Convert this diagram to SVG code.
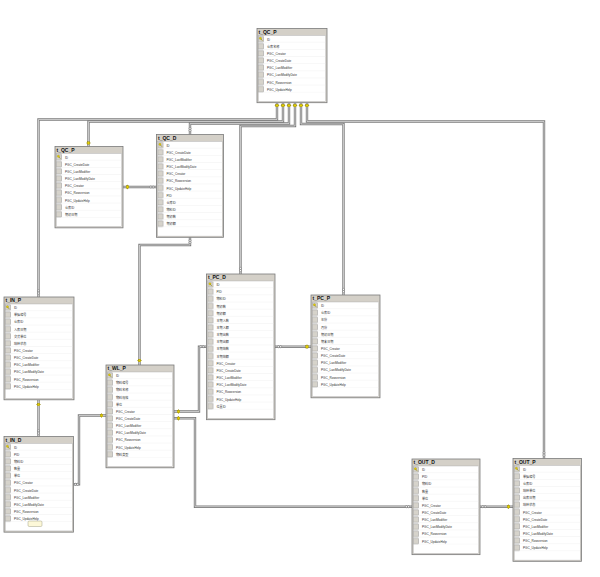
<svg xmlns="http://www.w3.org/2000/svg" xmlns:xlink="http://www.w3.org/1999/xlink" width="600" height="577" viewBox="0 0 600 577">
<style>
.frame{fill:#d4d0c8;stroke:#7a7a7a;stroke-width:0.8}
.body{fill:#ffffff;stroke:#a8a8a8;stroke-width:0.4}
.rows{fill:url(#rowpat)}
.ttl{font-family:"Liberation Sans","Noto Sans CJK SC",sans-serif;font-size:5px;font-weight:bold;fill:#111}
.r{font-family:"Liberation Sans","Noto Sans CJK SC",sans-serif;font-size:3.1px;fill:#333}
.co{fill:none;stroke:#7c7c7c;stroke-width:2.4}
.ci{fill:none;stroke:#dadada;stroke-width:0.8}
</style>
<defs>
<pattern id="rowpat" patternUnits="userSpaceOnUse" x="0" y="7" width="200" height="7.15">
<rect x="1.5" y="0.8" width="5" height="5.5" fill="#d6d3cb" stroke="#8c8c8c" stroke-width="0.45"/>
<line x1="7" y1="7" x2="200" y2="7" stroke="#e2e2e2" stroke-width="0.4"/>
</pattern>
<g id="tk">
<circle cx="-0.6" cy="-0.8" r="1.1" fill="#e8d400" stroke="#8a7c00" stroke-width="0.3"/>
<path d="M-0.1 -0.3 L1.4 1.6" stroke="#8a7c00" stroke-width="0.6"/>
</g>
<g id="km">
<path d="M-2.2 0 H2.2" stroke="#8a7c00" stroke-width="0.7"/>
<rect x="-1.3" y="-1.3" width="2.6" height="2.6" fill="#e6d200" stroke="#8a7c00" stroke-width="0.35"/>
</g>
<g id="inf" fill="#ffffff" stroke="#505050" stroke-width="0.45">
<circle cx="0" cy="-1.15" r="1.05"/>
<circle cx="0" cy="1.15" r="1.05"/>
</g>
</defs>
<rect width="600" height="577" fill="#ffffff"/>

<g id="connectors">
<g class="co">
<path d="M277 103 V119.5 H38.5 V297"/>
<path d="M283 103 V121.5 H88.5 V146.5"/>
<path d="M289 103 V123.5 H190 V134.5"/>
<path d="M295 103 V126 H240.5 V274"/>
<path d="M301 103 V124 H343.5 V295"/>
<path d="M307 103 V121.5 H544 V458.5"/>
<path d="M123 187 H156.5"/>
<path d="M190 237.3 V245 H139.5 V365"/>
<path d="M38.5 400 V436.5"/>
<path d="M73.5 484.3 H79 V415.5 H106"/>
<path d="M206.5 346.7 H199 V411.5 H174"/>
<path d="M174 418.3 H195 V506.7 H412"/>
<path d="M275 346.7 H311"/>
<path d="M480 506.7 H513"/>
</g>
<g class="ci">
<path d="M277 103 V119.5 H38.5 V297"/>
<path d="M283 103 V121.5 H88.5 V146.5"/>
<path d="M289 103 V123.5 H190 V134.5"/>
<path d="M295 103 V126 H240.5 V274"/>
<path d="M301 103 V124 H343.5 V295"/>
<path d="M307 103 V121.5 H544 V458.5"/>
<path d="M123 187 H156.5"/>
<path d="M190 237.3 V245 H139.5 V365"/>
<path d="M38.5 400 V436.5"/>
<path d="M73.5 484.3 H79 V415.5 H106"/>
<path d="M206.5 346.7 H199 V411.5 H174"/>
<path d="M174 418.3 H195 V506.7 H412"/>
<path d="M275 346.7 H311"/>
<path d="M480 506.7 H513"/>
</g>
<use xlink:href="#km" x="277" y="105.5"/>
<use xlink:href="#km" x="283" y="105.5"/>
<use xlink:href="#km" x="289" y="105.5"/>
<use xlink:href="#km" x="295" y="105.5"/>
<use xlink:href="#km" x="301" y="105.5"/>
<use xlink:href="#km" x="307" y="105.5"/>
<use xlink:href="#km" x="88.5" y="143"/>
<use xlink:href="#km" x="139.5" y="360.5"/>
<use xlink:href="#km" x="38.5" y="404.5"/>
<use xlink:href="#km" transform="translate(127.5,187) rotate(90)"/>
<use xlink:href="#km" transform="translate(101.5,415.5) rotate(90)"/>
<use xlink:href="#km" transform="translate(178.5,411.5) rotate(90)"/>
<use xlink:href="#km" transform="translate(178.5,418.3) rotate(90)"/>
<use xlink:href="#km" transform="translate(307,346.7) rotate(90)"/>
<use xlink:href="#km" transform="translate(508.5,506.7) rotate(90)"/>
<use xlink:href="#inf" x="38.5" y="292"/>
<use xlink:href="#inf" x="190" y="129.5"/>
<use xlink:href="#inf" x="240.5" y="269.5"/>
<use xlink:href="#inf" x="343.5" y="290.5"/>
<use xlink:href="#inf" x="544" y="454"/>
<use xlink:href="#inf" x="190" y="241.5"/>
<use xlink:href="#inf" x="38.5" y="432"/>
<use xlink:href="#inf" transform="translate(152,187) rotate(90)"/>
<use xlink:href="#inf" transform="translate(76.5,484.3) rotate(90)"/>
<use xlink:href="#inf" transform="translate(202,346.7) rotate(90)"/>
<use xlink:href="#inf" transform="translate(407.5,506.7) rotate(90)"/>
<use xlink:href="#inf" transform="translate(279.5,346.7) rotate(90)"/>
<use xlink:href="#inf" transform="translate(484,506.7) rotate(90)"/>
</g>

<g id="t_QC_P_top" transform="translate(257,28.5)">
<rect class="frame" width="70" height="74.2"/>
<rect class="body" x="1.2" y="7" width="67.6" height="66"/>
<rect class="rows" x="1.2" y="7" width="67.6" height="57.2"/>
<use xlink:href="#tk" x="4" y="10.6"/>
<text class="ttl" x="1.5" y="5.4">t_QC_P</text>
<text class="r"><tspan x="10" y="12.1">ID</tspan><tspan x="10" y="19.25">仓库名称</tspan><tspan x="10" y="26.4">PGC_Creator</tspan><tspan x="10" y="33.55">PGC_CreateDate</tspan><tspan x="10" y="40.7">PGC_LastModifier</tspan><tspan x="10" y="47.85">PGC_LastModifyDate</tspan><tspan x="10" y="55">PGC_Rowversion</tspan><tspan x="10" y="62.15">PGC_UpdateHelp</tspan></text>
</g>

<g id="t_QC_P" transform="translate(55,146.5)">
<rect class="frame" width="68" height="81.35"/>
<rect class="body" x="1.2" y="7" width="65.6" height="73.15"/>
<rect class="rows" x="1.2" y="7" width="65.6" height="64.35"/>
<use xlink:href="#tk" x="4" y="10.6"/>
<text class="ttl" x="1.5" y="5.4">t_QC_P</text>
<text class="r"><tspan x="10" y="12.1">ID</tspan><tspan x="10" y="19.25">PGC_CreateDate</tspan><tspan x="10" y="26.4">PGC_LastModifier</tspan><tspan x="10" y="33.55">PGC_LastModifyDate</tspan><tspan x="10" y="40.7">PGC_Creator</tspan><tspan x="10" y="47.85">PGC_Rowversion</tspan><tspan x="10" y="55">PGC_UpdateHelp</tspan><tspan x="10" y="62.15">仓库ID</tspan><tspan x="10" y="69.3">期初日期</tspan></text>
</g>

<g id="t_QC_D" transform="translate(156.5,134.5)">
<rect class="frame" width="67" height="102.8"/>
<rect class="body" x="1.2" y="7" width="64.6" height="94.6"/>
<rect class="rows" x="1.2" y="7" width="64.6" height="85.8"/>
<use xlink:href="#tk" x="4" y="10.6"/>
<text class="ttl" x="1.5" y="5.4">t_QC_D</text>
<text class="r"><tspan x="10" y="12.1">ID</tspan><tspan x="10" y="19.25">PGC_CreateDate</tspan><tspan x="10" y="26.4">PGC_LastModifier</tspan><tspan x="10" y="33.55">PGC_LastModifyDate</tspan><tspan x="10" y="40.7">PGC_Creator</tspan><tspan x="10" y="47.85">PGC_Rowversion</tspan><tspan x="10" y="55">PGC_UpdateHelp</tspan><tspan x="10" y="62.15">PID</tspan><tspan x="10" y="69.3">仓库ID</tspan><tspan x="10" y="76.45">物料ID</tspan><tspan x="10" y="83.6">期初数</tspan><tspan x="10" y="90.75">期初额</tspan></text>
</g>

<g id="t_IN_P" transform="translate(4,297)">
<rect class="frame" width="70" height="102.8"/>
<rect class="body" x="1.2" y="7" width="67.6" height="94.6"/>
<rect class="rows" x="1.2" y="7" width="67.6" height="85.8"/>
<use xlink:href="#tk" x="4" y="10.6"/>
<text class="ttl" x="1.5" y="5.4">t_IN_P</text>
<text class="r"><tspan x="10" y="12.1">ID</tspan><tspan x="10" y="19.25">单据编号</tspan><tspan x="10" y="26.4">仓库ID</tspan><tspan x="10" y="33.55">入库日期</tspan><tspan x="10" y="40.7">交货单位</tspan><tspan x="10" y="47.85">结转状态</tspan><tspan x="10" y="55">PGC_Creator</tspan><tspan x="10" y="62.15">PGC_CreateDate</tspan><tspan x="10" y="69.3">PGC_LastModifier</tspan><tspan x="10" y="76.45">PGC_LastModifyDate</tspan><tspan x="10" y="83.6">PGC_Rowversion</tspan><tspan x="10" y="90.75">PGC_UpdateHelp</tspan></text>
</g>

<g id="t_IN_D" transform="translate(4,436.5)">
<rect class="frame" width="69.5" height="95.65"/>
<rect class="body" x="1.2" y="7" width="67.1" height="87.45"/>
<rect class="rows" x="1.2" y="7" width="67.1" height="78.65"/>
<use xlink:href="#tk" x="4" y="10.6"/>
<text class="ttl" x="1.5" y="5.4">t_IN_D</text>
<text class="r"><tspan x="10" y="12.1">ID</tspan><tspan x="10" y="19.25">PID</tspan><tspan x="10" y="26.4">物料ID</tspan><tspan x="10" y="33.55">数量</tspan><tspan x="10" y="40.7">单位</tspan><tspan x="10" y="47.85">PGC_Creator</tspan><tspan x="10" y="55">PGC_CreateDate</tspan><tspan x="10" y="62.15">PGC_LastModifier</tspan><tspan x="10" y="69.3">PGC_LastModifyDate</tspan><tspan x="10" y="76.45">PGC_Rowversion</tspan><tspan x="10" y="83.6">PGC_UpdateHelp</tspan></text>
<rect x="24" y="84.5" width="14" height="5.5" rx="1.2" fill="#fdf8d8" stroke="#8a8a70" stroke-width="0.4"/>
</g>

<g id="t_WL_P" transform="translate(106,365)">
<rect class="frame" width="68" height="102.8"/>
<rect class="body" x="1.2" y="7" width="65.6" height="94.6"/>
<rect class="rows" x="1.2" y="7" width="65.6" height="85.8"/>
<use xlink:href="#tk" x="4" y="10.6"/>
<text class="ttl" x="1.5" y="5.4">t_WL_P</text>
<text class="r"><tspan x="10" y="12.1">ID</tspan><tspan x="10" y="19.25">物料编号</tspan><tspan x="10" y="26.4">物料名称</tspan><tspan x="10" y="33.55">物料规格</tspan><tspan x="10" y="40.7">单位</tspan><tspan x="10" y="47.85">PGC_Creator</tspan><tspan x="10" y="55">PGC_CreateDate</tspan><tspan x="10" y="62.15">PGC_LastModifier</tspan><tspan x="10" y="69.3">PGC_LastModifyDate</tspan><tspan x="10" y="76.45">PGC_Rowversion</tspan><tspan x="10" y="83.6">PGC_UpdateHelp</tspan><tspan x="10" y="90.75">物料类型</tspan></text>
</g>

<g id="t_PC_D" transform="translate(206.5,274)">
<rect class="frame" width="68.5" height="145.7"/>
<rect class="body" x="1.2" y="7" width="66.1" height="137.5"/>
<rect class="rows" x="1.2" y="7" width="66.1" height="128.7"/>
<use xlink:href="#tk" x="4" y="10.6"/>
<text class="ttl" x="1.5" y="5.4">t_PC_D</text>
<text class="r"><tspan x="10" y="12.1">ID</tspan><tspan x="10" y="19.25">PID</tspan><tspan x="10" y="26.4">物料ID</tspan><tspan x="10" y="33.55">期初数</tspan><tspan x="10" y="40.7">期初额</tspan><tspan x="10" y="47.85">本期入数</tspan><tspan x="10" y="55">本期入额</tspan><tspan x="10" y="62.15">本期出数</tspan><tspan x="10" y="69.3">本期出额</tspan><tspan x="10" y="76.45">本期结数</tspan><tspan x="10" y="83.6">本期结额</tspan><tspan x="10" y="90.75">PGC_Creator</tspan><tspan x="10" y="97.9">PGC_CreateDate</tspan><tspan x="10" y="105.05">PGC_LastModifier</tspan><tspan x="10" y="112.2">PGC_LastModifyDate</tspan><tspan x="10" y="119.35">PGC_Rowversion</tspan><tspan x="10" y="126.5">PGC_UpdateHelp</tspan><tspan x="10" y="133.65">位置ID</tspan></text>
</g>

<g id="t_PC_P" transform="translate(311,295)">
<rect class="frame" width="69" height="102.8"/>
<rect class="body" x="1.2" y="7" width="66.6" height="94.6"/>
<rect class="rows" x="1.2" y="7" width="66.6" height="85.8"/>
<use xlink:href="#tk" x="4" y="10.6"/>
<text class="ttl" x="1.5" y="5.4">t_PC_P</text>
<text class="r"><tspan x="10" y="12.1">ID</tspan><tspan x="10" y="19.25">仓库ID</tspan><tspan x="10" y="26.4">年份</tspan><tspan x="10" y="33.55">月份</tspan><tspan x="10" y="40.7">期初日期</tspan><tspan x="10" y="47.85">期末日期</tspan><tspan x="10" y="55">PGC_Creator</tspan><tspan x="10" y="62.15">PGC_CreateDate</tspan><tspan x="10" y="69.3">PGC_LastModifier</tspan><tspan x="10" y="76.45">PGC_LastModifyDate</tspan><tspan x="10" y="83.6">PGC_Rowversion</tspan><tspan x="10" y="90.75">PGC_UpdateHelp</tspan></text>
</g>

<g id="t_OUT_D" transform="translate(412,459)">
<rect class="frame" width="68" height="95.65"/>
<rect class="body" x="1.2" y="7" width="65.6" height="87.45"/>
<rect class="rows" x="1.2" y="7" width="65.6" height="78.65"/>
<use xlink:href="#tk" x="4" y="10.6"/>
<text class="ttl" x="1.5" y="5.4">t_OUT_D</text>
<text class="r"><tspan x="10" y="12.1">ID</tspan><tspan x="10" y="19.25">PID</tspan><tspan x="10" y="26.4">物料ID</tspan><tspan x="10" y="33.55">数量</tspan><tspan x="10" y="40.7">单位</tspan><tspan x="10" y="47.85">PGC_Creator</tspan><tspan x="10" y="55">PGC_CreateDate</tspan><tspan x="10" y="62.15">PGC_LastModifier</tspan><tspan x="10" y="69.3">PGC_LastModifyDate</tspan><tspan x="10" y="76.45">PGC_Rowversion</tspan><tspan x="10" y="83.6">PGC_UpdateHelp</tspan></text>
</g>

<g id="t_OUT_P" transform="translate(513,458.5)">
<rect class="frame" width="68.5" height="102.8"/>
<rect class="body" x="1.2" y="7" width="66.1" height="94.6"/>
<rect class="rows" x="1.2" y="7" width="66.1" height="85.8"/>
<use xlink:href="#tk" x="4" y="10.6"/>
<text class="ttl" x="1.5" y="5.4">t_OUT_P</text>
<text class="r"><tspan x="10" y="12.1">ID</tspan><tspan x="10" y="19.25">单据编号</tspan><tspan x="10" y="26.4">仓库ID</tspan><tspan x="10" y="33.55">结转单位</tspan><tspan x="10" y="40.7">出库日期</tspan><tspan x="10" y="47.85">结转状态</tspan><tspan x="10" y="55">PGC_Creator</tspan><tspan x="10" y="62.15">PGC_CreateDate</tspan><tspan x="10" y="69.3">PGC_LastModifier</tspan><tspan x="10" y="76.45">PGC_LastModifyDate</tspan><tspan x="10" y="83.6">PGC_Rowversion</tspan><tspan x="10" y="90.75">PGC_UpdateHelp</tspan></text>
</g>
</svg>
